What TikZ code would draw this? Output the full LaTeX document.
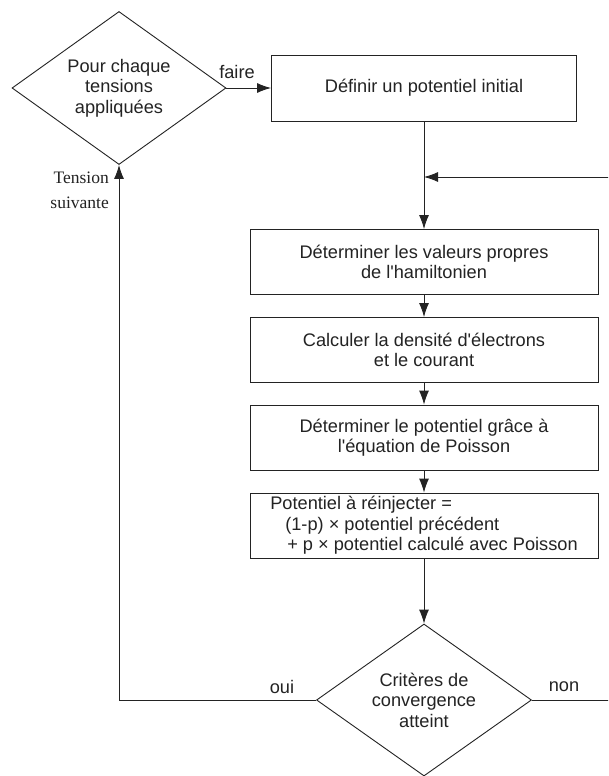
\documentclass[tikz,border=0pt]{standalone}
\usepackage{fontspec}
\newfontfamily\sansf{Liberation Sans}
\newfontfamily\serifont{Liberation Serif}
\usetikzlibrary{shapes.geometric,arrows.meta}
\definecolor{ink}{RGB}{35,35,35}
\begin{document}
\begin{tikzpicture}[x=1pt,y=-1pt,
  every node/.style={text=ink},
  txt/.style={font=\sansf\fontsize{18.2}{20.5}\selectfont},
  box/.style={txt, draw=ink, line width=0.9pt, minimum width=348pt, minimum height=65pt, inner sep=0pt, align=center},
  dia/.style={txt, draw=ink, line width=0.9pt, diamond, aspect=1.4, inner sep=0pt, align=center},
  lbl/.style={txt, inner sep=0pt},
  arr/.style={draw=ink, line width=0.9pt, -{Latex[length=14pt,width=10pt]}},
  plain/.style={draw=ink, line width=0.9pt}]
\useasboundingbox (0,0) rectangle (608,776);
\clip (0,0) rectangle (608,776);
\fill[white] (0,0) rectangle (608,776);

\node[dia, minimum width=214pt, minimum height=153pt] (d1) at (119,88) {Pour chaque\\tensions\\appliquées};
\node[box, minimum width=305pt, minimum height=66pt] (b1) at (424,88) {Définir un potentiel initial};
\node[box] (b2) at (424,262) {Déterminer les valeurs propres\\de l'hamiltonien};
\node[box] (b3) at (424,350) {Calculer la densité d'électrons\\et le courant};
\node[box] (b4) at (424,437.5) {Déterminer le potentiel grâce à\\l'équation de Poisson};
\node[box, align=left] (b5) at (424,525.5) {Potentiel à réinjecter =\\\hspace*{15pt}(1-p) × potentiel précédent\\\hspace*{17pt}+ p × potentiel calculé avec Poisson};
\node[dia, minimum width=215pt, minimum height=152pt] (d2) at (424,700) {Critères de\\convergence\\atteint};

\node[lbl] (faire) at (237,72) {faire};
\node[lbl] (oui) at (282,687) {oui};
\node[lbl] (non) at (564,687) {non};
\node[inner sep=0pt, anchor=east, align=right, font=\serifont\fontsize{17.5}{25}\selectfont] (tens) at (109,190) {Tension\\suivante};

\coordinate (join) at (424,177);
\coordinate (ext) at (625,700);

\draw[arr] (d1.east) -- (b1.west);
\draw[arr] (b1.south) -- (b2.north);
\draw[arr] (b2.south) -- (b3.north);
\draw[arr] (b3.south) -- (b4.north);
\draw[arr] (b4.south) -- (b5.north);
\draw[arr] (b5.south) -- (d2.north);
\draw[arr] (d2.west) -| (d1.south);
\draw[arr] (d2.east) -- (ext) |- (join);
\end{tikzpicture}
\end{document}
